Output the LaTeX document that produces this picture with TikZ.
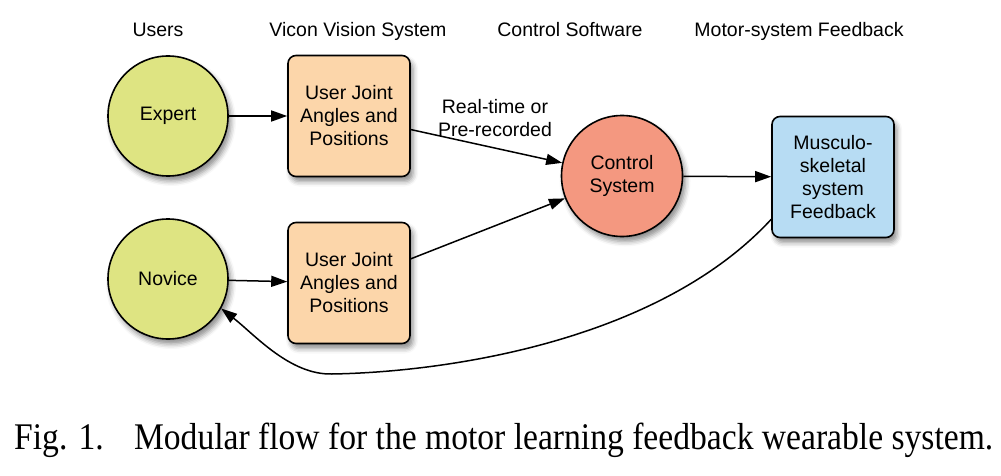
\documentclass[tikz,border=0pt]{standalone}
\usepackage{fontspec}
\setmainfont{Liberation Serif}
\setsansfont{Liberation Sans}
\usetikzlibrary{arrows.meta,calc,shadows.blur}
\definecolor{usergreen}{RGB}{222,228,130}
\definecolor{vicon}{RGB}{252,214,170}
\definecolor{ctrlred}{RGB}{244,152,128}
\definecolor{fbblue}{RGB}{183,220,243}
\tikzset{
  lab/.style={font=\sffamily\fontsize{19.5}{23}\selectfont, align=center, inner sep=0pt},
  sh/.style={blur shadow={shadow xshift=3pt, shadow yshift=-5pt, shadow blur radius=5pt, shadow opacity=45}},
  usernode/.style={circle, draw=black, line width=1.6pt, fill=usergreen, minimum size=120pt, inner sep=0pt, sh, lab},
  ctrlnode/.style={circle, draw=black, line width=1.6pt, fill=ctrlred, minimum size=121pt, inner sep=0pt, sh, lab},
  boxnode/.style={rectangle, rounded corners=8pt, draw=black, line width=1.6pt, minimum width=122pt, minimum height=121pt, inner sep=0pt, sh, lab},
  conn/.style={line width=1.5pt, -{Triangle[length=16pt,width=11pt]}},
  head/.style={lab, anchor=base},
}
\begin{document}
\begin{tikzpicture}[x=1pt,y=-1pt]
\useasboundingbox (0,0) rectangle (1001,476);
% headers
\node[head] (h1) at (158,37) {Users};
\node[head] (h2) at (358,37) {Vicon Vision System};
\node[head] (h3) at (570,37) {Control Software};
\node[head] (h4) at (799,37) {Motor-system Feedback};
% nodes
\node[usernode] (exp) at (168,116) {Expert};
\node[usernode] (nov) at (168,279) {Novice};
\node[boxnode, fill=vicon] (b1) at (349,116) {User Joint\\Angles and\\Positions};
\node[boxnode, fill=vicon] (b2) at (349,283) {User Joint\\Angles and\\Positions};
\node[ctrlnode] (ctrl) at (622,176) {Control\\System};
\node[boxnode, fill=fbblue] (fb) at (833,177) {Musculo-\\skeletal\\system\\Feedback};
\node[lab] (lbl) at (495,118) {Real-time or\\Pre-recorded};
% connectors
\draw[conn] (exp) -- (b1);
\draw[conn] (nov) -- (b2);
\draw[conn] (b1) -- (ctrl);
\draw[conn] (b2) -- (ctrl);
\draw[conn] (ctrl) -- (fb);
\draw[conn] ($(fb.south west)+(0,-19)$) .. controls (660,340) and (450,372) .. (332,374)
   .. controls (290,375) and (255,335) .. (nov.-29);
% caption
\node[inner sep=0pt, anchor=base west] (cap) at (14,449)
  {\resizebox{979pt}{26.5pt}{\fontsize{30}{36}\selectfont Fig. 1.\hspace{0.9em}Modular flow for the motor learning feedback wearable system.}};
\end{tikzpicture}
\end{document}
